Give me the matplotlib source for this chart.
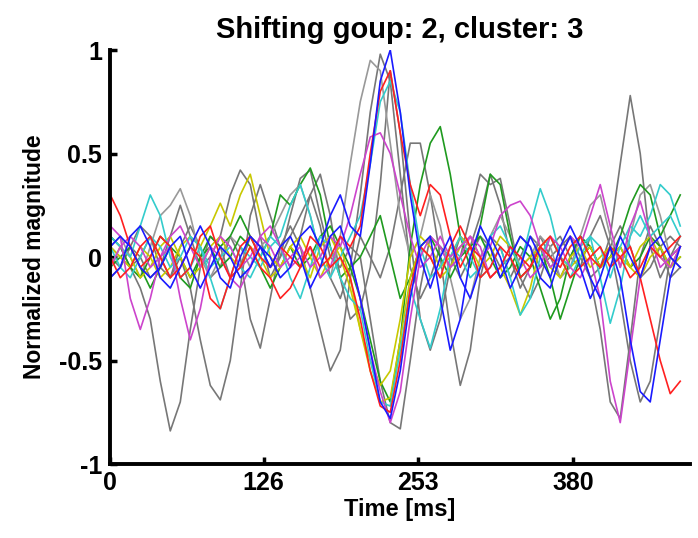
import numpy as np
import matplotlib.pyplot as plt

plt.rcParams['font.family'] = ['Liberation Sans', 'DejaVu Sans']

# sample times (ms): 58 samples from 0 to 468 ms
time_ms = np.linspace(0, 468, 58)

# normalized traces (58 samples each)
gray_1 = [0.05, 0.0, -0.05, -0.15, -0.3, -0.6, -0.84, -0.7, -0.35, -0.05,
          0.1, 0.05, -0.1, -0.05, 0.1, 0.05, -0.05, 0.0, 0.1, 0.2,
          0.3, 0.15, -0.1, -0.2, -0.05, 0.3, 0.7, 0.98, 0.85, 0.4,
          -0.05, -0.2, -0.1, 0.05, 0.0, -0.1, 0.0, 0.1, 0.05, -0.05,
          0.0, 0.1, 0.05, -0.05, 0.0, 0.05, 0.1, 0.0, -0.1, -0.05,
          0.05, 0.15, 0.05, -0.1, -0.05, 0.05, 0.1, 0.05]
gray_2 = [0.0, -0.05, 0.05, 0.15, 0.1, -0.05, -0.1, 0.0, -0.15, -0.4,
          -0.62, -0.69, -0.5, -0.15, 0.2, 0.35, 0.2, 0.05, -0.05, 0.1,
          0.3, 0.4, 0.2, -0.1, -0.3, -0.25, -0.05, 0.35, 0.9, 0.6,
          0.1, -0.3, -0.45, -0.3, -0.05, 0.1, 0.05, 0.2, 0.4, 0.25,
          0.0, -0.15, -0.05, 0.1, 0.0, -0.1, 0.0, 0.1, 0.05, -0.05,
          0.1, 0.45, 0.78, 0.5, 0.05, -0.1, 0.0, 0.05]
gray_3 = [0.1, 0.05, -0.05, 0.0, 0.1, 0.0, -0.1, 0.05, 0.15, 0.05,
          -0.1, -0.05, 0.1, 0.0, -0.3, -0.44, -0.2, 0.05, 0.15, 0.05,
          -0.15, -0.35, -0.55, -0.45, -0.1, 0.1, 0.0, -0.1, 0.05, 0.3,
          0.55, 0.55, 0.3, 0.0, -0.35, -0.62, -0.45, -0.1, 0.1, 0.05,
          -0.1, 0.0, 0.1, 0.05, -0.05, 0.0, 0.1, 0.05, -0.1, -0.35,
          -0.7, -0.78, -0.4, 0.0, 0.15, 0.05, -0.1, -0.05]
gray_4 = [-0.1, -0.05, 0.05, 0.0, -0.1, -0.05, 0.1, 0.25, 0.1, -0.05,
          0.0, 0.1, 0.3, 0.42, 0.35, 0.1, -0.1, 0.0, 0.2, 0.38,
          0.42, 0.2, 0.0, -0.05, 0.05, 0.0, -0.3, -0.6, -0.8, -0.83,
          -0.5, -0.15, 0.1, 0.05, -0.05, 0.0, 0.2, 0.4, 0.35, 0.38,
          0.15, -0.1, -0.2, -0.1, 0.05, 0.1, 0.0, -0.05, 0.1, 0.2,
          0.05, -0.2, -0.5, -0.7, -0.6, -0.3, 0.0, 0.1]
gray_5 = [0.05, 0.1, 0.0, -0.1, 0.05, 0.2, 0.25, 0.33, 0.2, 0.0,
          -0.1, 0.0, 0.1, 0.05, -0.05, 0.05, 0.1, 0.2, 0.3, 0.35,
          0.2, 0.0, -0.1, 0.1, 0.45, 0.75, 0.95, 0.9, 0.55, 0.2,
          0.0, 0.1, 0.3, 0.15, -0.1, -0.3, -0.2, 0.0, 0.1, 0.2,
          0.1, -0.05, 0.0, 0.1, 0.05, -0.1, -0.05, 0.1, 0.25, 0.3,
          0.1, -0.05, 0.1, 0.3, 0.35, 0.2, 0.0, -0.05]
blue_1 = [0.05, 0.1, 0.05, -0.05, -0.1, -0.05, 0.05, 0.1, -0.05, -0.15,
          -0.05, 0.05, 0.0, -0.1, -0.05, 0.05, 0.0, -0.1, -0.05, 0.1,
          0.15, 0.05, 0.2, 0.3, 0.15, 0.1, 0.45, 0.85, 1.0, 0.7,
          0.3, 0.0, -0.15, 0.0, 0.1, -0.1, -0.2, -0.05, 0.1, 0.0,
          -0.15, -0.05, 0.1, 0.0, -0.1, 0.05, 0.15, 0.05, -0.1, -0.2,
          -0.05, 0.1, 0.0, -0.1, 0.05, 0.1, 0.0, -0.05]
blue_2 = [-0.1, -0.05, 0.1, 0.15, 0.05, -0.1, -0.15, -0.05, 0.05, 0.15,
          0.05, -0.1, -0.15, 0.0, 0.1, 0.05, -0.05, 0.05, 0.1, 0.0,
          -0.15, -0.05, 0.1, 0.15, 0.0, -0.2, -0.45, -0.7, -0.78, -0.55,
          -0.2, 0.05, 0.1, -0.2, -0.45, -0.3, 0.0, 0.15, 0.05, -0.1,
          0.0, 0.1, 0.05, -0.1, -0.15, 0.0, 0.1, -0.05, -0.2, -0.1,
          0.05, -0.1, -0.4, -0.65, -0.7, -0.4, -0.1, 0.05]
red_1 = [0.3, 0.2, 0.05, -0.05, 0.0, 0.1, 0.05, -0.1, -0.05, 0.1,
         0.15, 0.0, -0.1, -0.05, 0.05, -0.05, -0.1, -0.2, -0.15, -0.05,
         0.05, -0.05, 0.0, 0.1, 0.05, 0.15, 0.5, 0.8, 0.9, 0.6,
         0.35, 0.2, 0.35, 0.3, 0.1, -0.05, 0.05, 0.0, -0.1, -0.05,
         0.05, 0.0, -0.05, 0.05, 0.1, 0.0, -0.1, -0.05, 0.0, 0.05,
         -0.05, 0.0, 0.05, -0.1, -0.3, -0.5, -0.66, -0.6]
red_2 = [0.0, -0.1, -0.05, 0.05, 0.1, 0.0, -0.1, -0.05, 0.05, 0.0,
         -0.2, -0.25, -0.1, 0.05, 0.1, 0.0, -0.05, 0.05, 0.0, -0.05,
         0.1, 0.05, -0.05, 0.0, -0.1, -0.3, -0.55, -0.72, -0.75, -0.5,
         -0.15, 0.05, 0.0, -0.1, 0.05, 0.15, 0.05, -0.1, -0.05, 0.05,
         0.0, -0.1, -0.05, 0.05, 0.0, -0.05, 0.05, 0.1, 0.0, -0.05,
         0.05, 0.0, -0.1, -0.05, 0.05, 0.0, 0.05, 0.1]
cyan_1 = [0.1, 0.05, 0.0, 0.15, 0.3, 0.2, 0.0, -0.1, -0.05, 0.05,
          -0.1, -0.25, -0.1, 0.05, 0.0, -0.05, 0.05, 0.1, 0.25, 0.35,
          0.2, 0.0, -0.1, 0.0, 0.1, 0.2, 0.45, 0.75, 0.85, 0.7,
          0.35, 0.05, -0.1, -0.05, 0.05, 0.0, -0.1, -0.05, 0.1, 0.15,
          0.05, -0.05, 0.15, 0.33, 0.2, 0.0, -0.1, 0.0, 0.1, 0.05,
          -0.1, 0.05, 0.15, 0.1, 0.2, 0.35, 0.3, 0.15]
cyan_2 = [0.05, -0.05, -0.1, 0.0, 0.1, 0.05, -0.05, 0.0, 0.1, 0.05,
          -0.05, 0.0, 0.05, -0.05, -0.1, 0.0, 0.1, 0.05, -0.1, -0.2,
          -0.05, 0.1, 0.05, -0.1, -0.2, -0.25, -0.5, -0.7, -0.72, -0.45,
          -0.15, -0.3, -0.44, -0.25, 0.0, 0.1, 0.0, -0.1, -0.05, 0.05,
          -0.1, -0.28, -0.2, 0.0, 0.1, 0.0, -0.05, 0.05, 0.1, -0.1,
          -0.32, -0.15, 0.1, 0.2, 0.1, 0.15, 0.2, 0.1]
magenta_1 = [0.15, 0.1, -0.2, -0.35, -0.2, 0.0, 0.05, -0.2, -0.4, -0.25,
             0.0, 0.1, 0.05, -0.05, 0.0, 0.1, 0.05, -0.05, 0.0, 0.05,
             -0.05, 0.0, 0.1, 0.05, 0.2, 0.4, 0.58, 0.6, 0.5, 0.3,
             0.1, -0.05, 0.0, 0.1, 0.0, 0.05, 0.1, 0.0, 0.05, 0.2,
             0.25, 0.27, 0.2, 0.05, -0.05, 0.0, 0.1, 0.05, 0.2, 0.35,
             0.15, -0.05, 0.15, 0.27, 0.1, -0.05, 0.0, 0.05]
magenta_2 = [-0.05, 0.05, 0.1, 0.05, -0.05, 0.0, 0.1, 0.15, 0.05, -0.05,
             0.05, 0.0, -0.1, -0.15, -0.05, 0.1, 0.15, 0.05, -0.05, 0.0,
             0.05, -0.1, -0.05, 0.1, 0.0, -0.2, -0.45, -0.65, -0.8, -0.65,
             -0.3, 0.0, 0.1, 0.05, -0.05, 0.0, 0.1, 0.05, -0.1, -0.05,
             0.05, 0.0, -0.1, -0.05, 0.1, 0.05, -0.05, -0.1, 0.0, -0.2,
             -0.6, -0.8, -0.45, -0.1, 0.05, 0.0, -0.05, 0.05]
yellow_1 = [0.05, 0.0, -0.05, 0.05, 0.0, -0.1, -0.05, 0.05, 0.1, 0.05,
            0.15, 0.26, 0.15, 0.3, 0.4, 0.2, 0.0, -0.05, 0.05, 0.1,
            0.0, -0.1, 0.0, 0.05, -0.1, -0.35, -0.55, -0.7, -0.68, -0.4,
            -0.1, 0.05, 0.0, -0.1, -0.05, 0.05, 0.1, 0.0, -0.1, -0.05,
            -0.15, -0.28, -0.15, 0.05, 0.1, 0.0, -0.05, 0.0, 0.05, -0.05,
            0.0, 0.05, -0.05, -0.1, 0.0, 0.05, -0.05, 0.0]
yellow_2 = [-0.05, 0.05, 0.0, -0.1, -0.05, 0.05, 0.1, 0.0, -0.1, -0.05,
            0.05, 0.1, 0.0, -0.05, 0.05, 0.0, -0.1, -0.05, 0.05, 0.0,
            -0.1, 0.05, 0.1, 0.0, -0.15, -0.35, -0.5, -0.62, -0.55, -0.3,
            0.0, 0.1, 0.05, -0.05, 0.0, 0.1, 0.05, -0.05, 0.0, 0.1,
            0.05, -0.05, 0.0, 0.05, -0.05, -0.1, 0.0, 0.05, -0.05, 0.0,
            0.05, 0.0, -0.05, 0.05, 0.1, 0.0, -0.05, 0.05]
green_1 = [-0.05, 0.0, 0.05, -0.05, -0.15, -0.05, 0.05, 0.0, -0.1, 0.0,
           0.1, 0.05, 0.1, 0.2, 0.1, 0.0, 0.1, 0.3, 0.25, 0.35,
           0.43, 0.3, 0.05, -0.1, -0.05, -0.2, -0.4, -0.6, -0.7, -0.4,
           0.05, 0.35, 0.55, 0.63, 0.4, 0.1, -0.05, 0.15, 0.4, 0.35,
           0.1, -0.1, -0.05, 0.05, -0.1, -0.3, -0.15, 0.0, 0.05, -0.05,
           0.0, 0.1, 0.25, 0.35, 0.3, 0.1, 0.2, 0.3]
green_2 = [0.1, 0.05, -0.05, -0.1, 0.0, 0.1, 0.05, -0.1, -0.15, 0.0,
           0.05, -0.05, 0.0, 0.1, 0.05, -0.05, -0.15, -0.05, 0.05, -0.05,
           0.0, 0.1, 0.15, 0.05, -0.05, 0.0, 0.1, 0.2, 0.0, -0.2,
           -0.1, 0.05, 0.1, 0.0, -0.1, 0.0, 0.05, 0.1, 0.0, -0.1,
           -0.05, 0.05, 0.0, -0.15, -0.3, -0.2, 0.0, 0.1, 0.05, -0.05,
           0.0, 0.05, -0.05, 0.0, 0.1, 0.05, -0.05, 0.0]

traces = [
    (gray_1, '#777777'), (gray_2, '#777777'), (gray_3, '#777777'),
    (gray_4, '#777777'), (gray_5, '#999999'),
    (green_1, '#1f9a1f'), (green_2, '#1f9a1f'),
    (yellow_1, '#c8c800'), (yellow_2, '#c8c800'),
    (cyan_1, '#33cccc'), (cyan_2, '#33cccc'),
    (magenta_1, '#cc44cc'), (magenta_2, '#cc44cc'),
    (red_1, '#ff2020'), (red_2, '#ff2020'),
    (blue_1, '#1a1aff'), (blue_2, '#1a1aff'),
]

x_ticks = [0, 126, 253, 380]
y_ticks = [-1, -0.5, 0, 0.5, 1]
y_tick_labels = ['-1', '-0.5', '0', '0.5', '1']

fig = plt.figure(figsize=(6.98, 5.38), dpi=100)
ax = fig.add_axes([0.158, 0.1375, 0.8305, 0.7695])

for values, color in traces:
    ax.plot(time_ms, values, color=color, lw=1.2)

ax.set_xlim(0, 476)
ax.set_ylim(-1, 1)
ax.set_xticks(x_ticks)
ax.set_xticklabels([str(t) for t in x_ticks])
ax.set_yticks(y_ticks)
ax.set_yticklabels(y_tick_labels)

for side in ['top', 'right']:
    ax.spines[side].set_visible(False)
for side in ['left', 'bottom']:
    ax.spines[side].set_linewidth(2.8)
ax.tick_params(direction='in', length=5, width=2.5, labelsize=18)
ax.tick_params(axis='y', pad=6)
ax.tick_params(axis='x', pad=5)
for lbl in ax.get_xticklabels() + ax.get_yticklabels():
    lbl.set_fontweight('bold')

ax.set_title('Shifting goup: 2, cluster: 3', fontsize=21, fontweight='bold', pad=9)
ax.set_xlabel('Time [ms]', fontsize=17, fontweight='bold', labelpad=2)
ax.set_ylabel('Normalized magnitude', fontsize=16.5, fontweight='bold', labelpad=9)

fig.savefig('out.png', dpi=100)
